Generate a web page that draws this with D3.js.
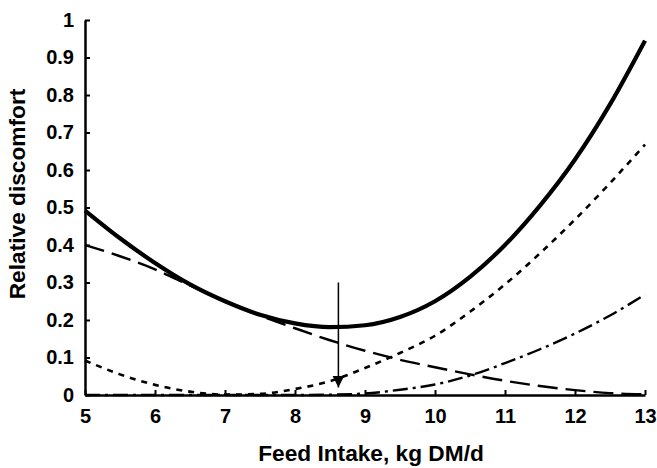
<!DOCTYPE html>
<html>
<head>
<meta charset="utf-8">
<script src="https://cdn.jsdelivr.net/npm/d3@7"></script>
<style>
  html, body { margin: 0; padding: 0; background: #fff; overflow: hidden; }
  svg { display: block; }
</style>
</head>
<body>
<div id="viz"></div>
<script>
// feed intake, kg DM/d
const intake = [5, 5.5, 6, 6.5, 7, 7.5, 8, 8.5, 9, 9.5, 10, 10.5, 11, 11.5, 12, 12.5, 13];
// total relative discomfort (thick solid line)
const total = [0.492, 0.418, 0.352, 0.295, 0.25, 0.214, 0.191, 0.181, 0.186, 0.208, 0.25, 0.315, 0.40, 0.505, 0.628, 0.775, 0.945];
// long dashed component
const hunger = [0.40, 0.37, 0.335, 0.292, 0.25, 0.212, 0.178, 0.146, 0.118, 0.094, 0.074, 0.055, 0.038, 0.024, 0.013, 0.005, 0.002];
// short dashed component
const fill = [0.092, 0.055, 0.027, 0.009, 0.001, 0.003, 0.016, 0.037, 0.072, 0.112, 0.158, 0.222, 0.295, 0.378, 0.468, 0.565, 0.668];
// dash-dot component
const toxic = [0, 0, 0, 0, 0, 0, 0, 0.001, 0.004, 0.014, 0.028, 0.052, 0.085, 0.122, 0.164, 0.212, 0.268];

const xTicks = [5, 6, 7, 8, 9, 10, 11, 12, 13];
const yTicks = [0, 0.1, 0.2, 0.3, 0.4, 0.5, 0.6, 0.7, 0.8, 0.9, 1];
const arrowX = 8.62;
const arrowFrom = 0.3;
const arrowTo = 0.02;

const width = 657;
const height = 468;
const margin = { top: 20, right: 12, bottom: 73, left: 85 };
const innerWidth = width - margin.left - margin.right;
const innerHeight = height - margin.top - margin.bottom;
const font = '"Liberation Sans", Arial, sans-serif';

const svg = d3.select('#viz').append('svg')
    .attr('width', width)
    .attr('height', height);

const g = svg.append('g')
    .attr('transform', `translate(${margin.left},${margin.top})`);

const x = d3.scaleLinear().domain([5, 13]).range([0, innerWidth]);
const y = d3.scaleLinear().domain([0, 1]).range([innerHeight, 0]);

const line = d3.line()
    .x(d => x(d[0]))
    .y(d => y(d[1]))
    .curve(d3.curveMonotoneX);

const series = [
    { values: hunger, dash: '20,8', width: 2.4 },
    { values: fill, dash: '6,6', width: 2.6 },
    { values: toxic, dash: '15,5,3,5', width: 2.4 },
    { values: total, dash: null, width: 4.2 }
];

g.selectAll('.curve')
    .data(series)
    .enter()
    .append('path')
    .attr('class', 'curve')
    .attr('fill', 'none')
    .attr('stroke', '#000')
    .attr('stroke-width', d => d.width)
    .attr('stroke-dasharray', d => d.dash)
    .attr('d', d => line(d.values.map((v, i) => [intake[i], v])));

// axes
const xAxis = d3.axisBottom(x).tickValues(xTicks).tickSizeInner(-5).tickSizeOuter(0).tickPadding(14);
const yAxis = d3.axisLeft(y).tickValues(yTicks).tickSizeInner(-5).tickSizeOuter(0).tickPadding(11)
    .tickFormat(d => d === 0 || d === 1 ? d3.format('d')(d) : d3.format('.1f')(d));

const gx = g.append('g')
    .attr('transform', `translate(0,${innerHeight})`)
    .call(xAxis);
const gy = g.append('g').call(yAxis);

[gx, gy].forEach(a => {
    a.attr('font-family', font).attr('font-size', 20).attr('font-weight', 'bold');
    a.select('.domain').attr('stroke', '#000').attr('stroke-width', 2.5);
    a.selectAll('.tick line').attr('stroke', '#000').attr('stroke-width', 2);
    a.selectAll('.tick text').attr('fill', '#000');
});

// arrow
svg.append('defs').append('marker')
    .attr('id', 'head')
    .attr('viewBox', '0 0 10 10')
    .attr('refX', 10)
    .attr('refY', 5)
    .attr('markerWidth', 12)
    .attr('markerHeight', 12)
    .attr('markerUnits', 'userSpaceOnUse')
    .attr('orient', 'auto')
    .append('path')
    .attr('d', 'M0,0L10,5L0,10Z')
    .attr('fill', '#000');

g.append('line')
    .attr('x1', x(arrowX)).attr('x2', x(arrowX))
    .attr('y1', y(arrowFrom)).attr('y2', y(arrowTo))
    .attr('stroke', '#000')
    .attr('stroke-width', 1.5)
    .attr('marker-end', 'url(#head)');

// titles
svg.append('text')
    .attr('x', 371)
    .attr('y', 461)
    .attr('text-anchor', 'middle')
    .attr('font-family', font)
    .attr('font-weight', 'bold')
    .attr('font-size', 22.7)
    .text('Feed Intake, kg DM/d');

svg.append('text')
    .attr('transform', 'translate(25,194) rotate(-90)')
    .attr('text-anchor', 'middle')
    .attr('font-family', font)
    .attr('font-weight', 'bold')
    .attr('font-size', 22.7)
    .text('Relative discomfort');
</script>
</body>
</html>
